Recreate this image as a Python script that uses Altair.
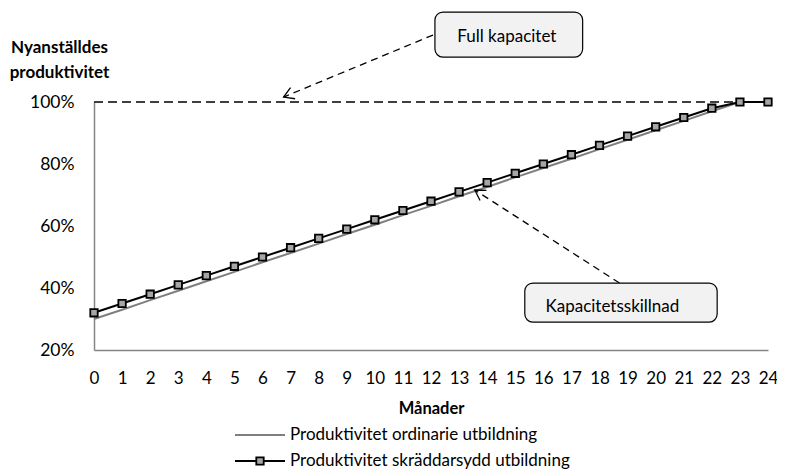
import altair as alt
import pandas as pd

# ---- data ----
months = list(range(25))
ordinarie = [30.0, 33.0, 36.1, 39.1, 42.2, 45.2, 48.3, 51.3, 54.3, 57.4, 60.4, 63.5, 66.5,
             69.6, 72.6, 75.7, 78.7, 81.7, 84.8, 87.8, 90.9, 93.9, 97.0, 100.0, 100.0]
skraddarsydd = [32, 35, 38, 41, 44, 47, 50, 53, 56, 59, 62, 65, 68, 71, 74, 77, 80, 83,
                86, 89, 92, 95, 98, 100, 100]
y_ticks = [20, 40, 60, 80, 100]
full_capacity = 100
series_names = ["Produktivitet ordinarie utbildning", "Produktivitet skräddarsydd utbildning"]
x_title = "Månader"
y_title = ["Nyanställdes", "produktivitet"]

box_labels = ["Full kapacitet", "Kapacitetsskillnad"]
box_x = [12.14, 15.34]
box_x2 = [17.40, 22.19]
box_y = [114.5, 29.0]
box_y2 = [129.0, 41.6]
box_tx = [14.70, 18.46]
box_ty = [121.0, 33.9]
arrow_x = [12.07, 18.71]
arrow_y = [121.6, 41.6]
arrow_tip_x = [6.75, 13.56]
arrow_tip_y = [101.6, 71.6]
arrow_angle = [247.5, 302.4]

FONT = "Lato"

df_ord = pd.DataFrame({"month": months, "value": ordinarie})
df_skr = pd.DataFrame({"month": months, "value": skraddarsydd})
df_full = pd.DataFrame({"month": [0], "x2": [24], "value": [full_capacity]})
df_box = pd.DataFrame({"label": box_labels, "month": box_x, "x2": box_x2, "value": box_y, "y2": box_y2,
                       "tx": box_tx, "ty": box_ty})
df_arrow = pd.DataFrame({"month": arrow_x, "value": arrow_y, "x2": arrow_tip_x, "y2": arrow_tip_y,
                         "angle": arrow_angle})

xscale = alt.Scale(domain=[0, 24], nice=False, zero=False)
yscale = alt.Scale(domain=[20, 100], nice=False, zero=False)

x_axis = alt.Axis(values=months, format="d", grid=False, ticks=False, domainColor="#868686",
                  domainWidth=1.5, labelFontSize=17, labelColor="black", labelPadding=20,
                  labelFont=FONT, labelAngle=0, labelOverlap=False, labelFlush=False,
                  title=x_title, titleFont=FONT, titleFontSize=16.5,
                  titleFontWeight="bold", titleColor="black", titlePadding=14)
y_axis = alt.Axis(values=y_ticks, labelExpr="datum.value + '%'", grid=False, ticks=False,
                  domainColor="#868686", domainWidth=1.5, labelFontSize=17.5, labelColor="black",
                  labelPadding=20, labelFont=FONT, title=y_title, titleFont=FONT, titleFontSize=17,
                  titleFontWeight="bold", titleColor="black", titleAngle=0, titleAlign="center",
                  titleBaseline="alphabetic", titleX=-35, titleY=-50, titleLineHeight=25)

X = alt.X("month:Q", scale=xscale, axis=x_axis, title=x_title)
Y = alt.Y("value:Q", scale=yscale, axis=y_axis, title=y_title)

base_ord = alt.Chart(df_ord).mark_line(color="#7f7f7f", strokeWidth=2).encode(x=X, y=Y)
line_skr = alt.Chart(df_skr).mark_line(color="black", strokeWidth=2).encode(x=X, y=Y)
pts_skr = alt.Chart(df_skr).mark_point(shape="square", filled=True, fill="#a6a6a6", stroke="black",
                                       strokeWidth=1.8, size=55, opacity=1).encode(x=X, y=Y)
full_line = alt.Chart(df_full).mark_rule(color="black", strokeWidth=1.5, strokeDash=[9, 5]).encode(
    x=X, x2="x2:Q", y=Y)
arrow_lines = alt.Chart(df_arrow).mark_rule(color="black", strokeWidth=1.3, strokeDash=[7, 5]).encode(
    x=X, x2="x2:Q", y=Y, y2="y2:Q")
arrow_heads = alt.Chart(df_arrow).mark_point(shape="M -0.6 1 L 0 0 L 0.6 1", filled=False,
                                             stroke="black", strokeWidth=1.3, size=400,
                                             opacity=1).encode(
    x=alt.X("x2:Q", scale=xscale, axis=x_axis, title=x_title),
    y=alt.Y("y2:Q", scale=yscale, axis=y_axis, title=y_title),
    angle=alt.Angle("angle:Q", scale=None),
)
boxes = alt.Chart(df_box).mark_rect(fill="#f2f2f2", stroke="black", strokeWidth=1.2,
                                    cornerRadius=8).encode(x=X, x2="x2:Q", y=Y, y2="y2:Q")
box_text = alt.Chart(df_box).mark_text(font=FONT, fontSize=17, color="black", align="center",
                                       baseline="middle").encode(
    x=alt.X("tx:Q", scale=xscale, axis=x_axis, title=x_title),
    y=alt.Y("ty:Q", scale=yscale, axis=y_axis, title=y_title),
    text="label:N",
)

# manual legend
leg_df1 = pd.DataFrame({"name": [series_names[0]]})
leg_df2 = pd.DataFrame({"name": [series_names[1]]})
leg_line1 = alt.Chart(leg_df1).mark_rule(color="#7f7f7f", strokeWidth=2).encode(
    x=alt.value(141), x2=alt.value(191), y=alt.value(333))
leg_text1 = alt.Chart(leg_df1).mark_text(font=FONT, fontSize=17, align="left", baseline="middle",
                                         color="black").encode(
    x=alt.value(196), y=alt.value(333), text="name:N")
leg_line2 = alt.Chart(leg_df2).mark_rule(color="black", strokeWidth=2).encode(
    x=alt.value(141), x2=alt.value(191), y=alt.value(359))
leg_pt2 = alt.Chart(leg_df2).mark_point(shape="square", filled=True, fill="#a6a6a6", stroke="black",
                                        strokeWidth=1.8, size=55, opacity=1).encode(
    x=alt.value(166), y=alt.value(359))
leg_text2 = alt.Chart(leg_df2).mark_text(font=FONT, fontSize=17, align="left", baseline="middle",
                                         color="black").encode(
    x=alt.value(196), y=alt.value(359), text="name:N")

chart = alt.layer(
    base_ord, full_line, line_skr, pts_skr, arrow_lines, arrow_heads, boxes, box_text,
    leg_line1, leg_text1, leg_line2, leg_pt2, leg_text2,
).properties(
    width=674, height=248,
    autosize=alt.AutoSizeParams(type="none"),
    padding={"left": 86, "top": 94, "right": 9, "bottom": 120},
).configure(font=FONT).configure_view(stroke=None)

chart.save("out.html", embed_options={"renderer": "svg", "actions": False})
